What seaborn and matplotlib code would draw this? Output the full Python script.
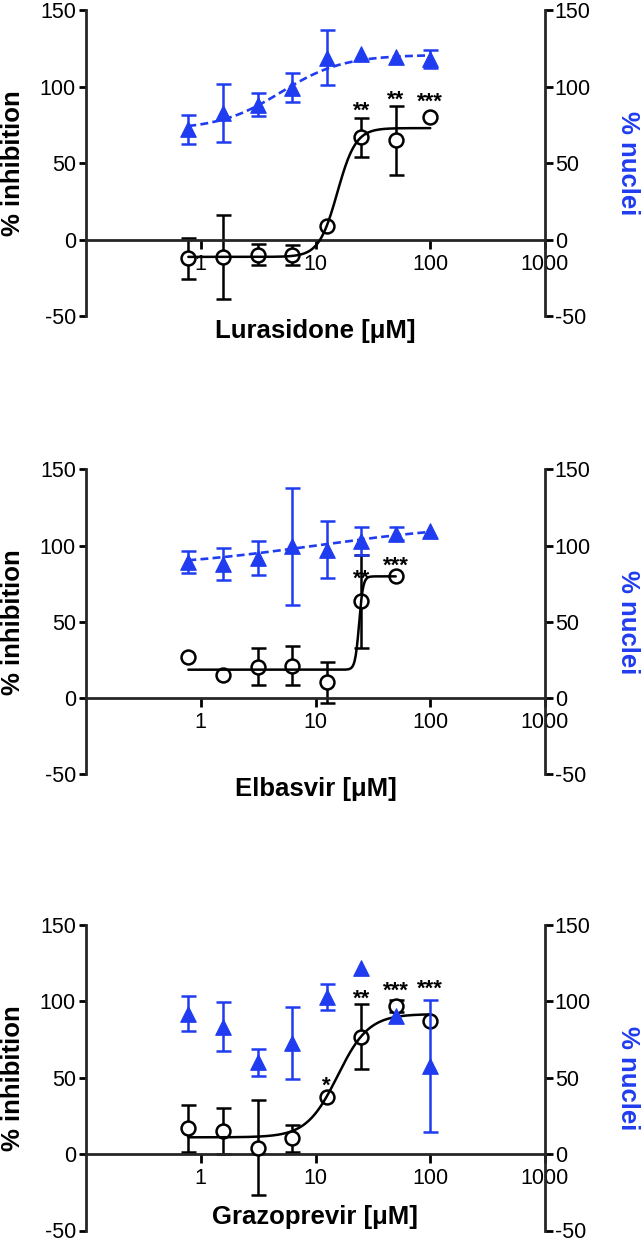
import numpy as np
import matplotlib
matplotlib.use('Agg')
import matplotlib.pyplot as plt
import matplotlib.transforms as mtransforms
import seaborn as sns

nan = np.nan

# ---------------- data ----------------
conc = [0.78, 1.56, 3.125, 6.25, 12.5, 25, 50, 100]
x_ticks = [1, 10, 100, 1000]
x_tick_labels = ['1', '10', '100', '1000']
y_ticks = [-50, 0, 50, 100, 150]
drug_labels = ['Lurasidone [\u03bcM]', 'Elbasvir [\u03bcM]', 'Grazoprevir [\u03bcM]']

lur_inh = [-12.2, -11.1, -9.8, -10.0, 8.8, 67, 65, 80]
lur_inh_err = [13.3, 27.5, 6.8, 6.8, nan, 12.7, 22.5, nan]
lur_nuc = [72.4, 83, 88.4, 99.3, 119, 121.3, 119.7, 118.4]
lur_nuc_err = [9.5, 19, 7.5, 9.5, 18, nan, nan, 6]

elb_inh = [26.8, 15.1, 20.6, 21.3, 10.3, 63.4, 80, nan]
elb_inh_err = [nan, nan, 12, 12.6, 13.6, 30.7, nan, nan]
elb_nuc = [89.3, 87.7, 91.9, 99.6, 97.4, 103, 107.9, 109.4]
elb_nuc_err = [7, 10.5, 11, 38.4, 19, 9, 4, nan]

gra_inh = [16.8, 15.1, 4.2, 10.3, 37.6, 77, 97, 86.9]
gra_inh_err = [15.5, 15.3, 31, 9, nan, 21, 4.2, nan]
gra_nuc = [91.8, 83.5, 60, 72.5, 102.8, 122, 90.7, 57.7]
gra_nuc_err = [11.5, 16, 8.8, 23.5, 8.5, nan, nan, 43]

# fitted 4-parameter logistic curves: bottom, top, EC50, Hill slope, last conc
lur_inh_fit = [-11.3, 73, 15.5, 5.4, 100]
lur_nuc_fit = [72, 121, 5.0, 1.6, 100]
elb_inh_fit = [18.6, 79.8, 24, 25, 50]
elb_nuc_fit = [85, 115, 10, 0.6, 100]
gra_inh_fit = [11, 91.7, 15.6, 3.2, 100]
gra_nuc_fit = None

# significance stars (concentration, visual centre, text)
lur_star_x = [25, 50, 100]
lur_star_y = [89.5, 96.5, 95]
lur_star_t = ['**', '**', '***']
elb_star_x = [25, 50]
elb_star_y = [83.3, 91.5]
elb_star_t = ['**', '***']
gra_star_x = [12.5, 25, 50, 100]
gra_star_y = [49.5, 106.6, 112, 112.8]
gra_star_t = ['*', '**', '***', '***']

panels = [
    (lur_inh, lur_inh_err, lur_nuc, lur_nuc_err, lur_inh_fit, lur_nuc_fit,
     lur_star_x, lur_star_y, lur_star_t),
    (elb_inh, elb_inh_err, elb_nuc, elb_nuc_err, elb_inh_fit, elb_nuc_fit,
     elb_star_x, elb_star_y, elb_star_t),
    (gra_inh, gra_inh_err, gra_nuc, gra_nuc_err, gra_inh_fit, gra_nuc_fit,
     gra_star_x, gra_star_y, gra_star_t),
]

# ---------------- style ----------------
sns.set_style('ticks')
plt.rcParams['font.family'] = ['Liberation Sans', 'DejaVu Sans']
plt.rcParams['lines.scale_dashes'] = True

BLUE = '#1f3cf0'
W, H = 644, 1243
L, R = 86, 545
panel_px = [(10.5, 316), (469.3, 774.3), (925, 1230.5)]
label_y_px = [331, 789, 1217]
LW = 2.0
TICK_FS = 15.5
LABEL_FS = 18.5
STAR_FS = 16


def four_pl(x, p):
    bottom, top, ec50, hill, _ = p
    return bottom + (top - bottom) / (1 + (ec50 / x) ** hill)


fig = plt.figure(figsize=(W / 100, H / 100), dpi=100)

for i, (inh, inh_err, nuc, nuc_err, fit_i, fit_n, sx, sy, st) in enumerate(panels):
    top_px, bot_px = panel_px[i]
    ax = fig.add_axes([L / W, 1 - bot_px / H, (R - L) / W, (bot_px - top_px) / H])
    ax.set_xscale('log')
    ax.set_xlim(0.1, 1000)
    ax.set_ylim(-50, 150)
    ax.patch.set_visible(False)

    # black: % inhibition
    ax.errorbar(conc, inh, yerr=inh_err, fmt='none', ecolor='black',
                elinewidth=1.8, capsize=5.4, capthick=1.8, zorder=2)
    sns.scatterplot(x=conc, y=inh, ax=ax, marker='o', s=100, color='white',
                    edgecolor='black', linewidth=1.8, zorder=3)
    xs = np.logspace(np.log10(conc[0]), np.log10(fit_i[4]), 400)
    sns.lineplot(x=xs, y=four_pl(xs, fit_i), ax=ax, color='black',
                 linewidth=1.8, estimator=None, sort=False, zorder=4)

    # stars
    star_tr = mtransforms.offset_copy(ax.transData, fig=fig, y=-0.6 * STAR_FS, units='points')
    for x, y, t in zip(sx, sy, st):
        ax.text(x, y, t, transform=star_tr, ha='center', va='baseline',
                fontsize=STAR_FS, fontweight='bold', color='black', zorder=5)

    # axes styling (left)
    for s in ['top', 'right']:
        ax.spines[s].set_visible(False)
    ax.spines['bottom'].set_position(('data', 0))
    ax.spines['left'].set_linewidth(LW)
    ax.spines['bottom'].set_linewidth(LW)
    ax.set_xticks(x_ticks)
    ax.set_xticklabels(x_tick_labels)
    ax.xaxis.set_minor_locator(matplotlib.ticker.NullLocator())
    ax.set_yticks(y_ticks)
    ax.set_yticklabels([str(v) for v in y_ticks])
    ax.tick_params(axis='x', which='major', direction='out', length=6.3, width=LW,
                   pad=4, labelsize=TICK_FS, colors='black')
    ax.tick_params(axis='y', which='major', direction='out', length=5.3, width=LW,
                   pad=2, labelsize=TICK_FS, colors='black')
    ax.set_xlabel('')
    ax.set_ylabel('')

    # blue: % nuclei (right axis)
    ax2 = ax.twinx()
    ax2.set_ylim(-50, 150)
    ax2.errorbar(conc, nuc, yerr=nuc_err, fmt='none', ecolor=BLUE,
                 elinewidth=1.8, capsize=5.4, capthick=1.8, zorder=2)
    sns.scatterplot(x=conc, y=nuc, ax=ax2, marker='^', s=125, color=BLUE,
                    edgecolor=BLUE, linewidth=0.8, zorder=3)
    if fit_n is not None:
        xs2 = np.logspace(np.log10(conc[0]), np.log10(fit_n[4]), 400)
        sns.lineplot(x=xs2, y=four_pl(xs2, fit_n), ax=ax2, color=BLUE,
                     linewidth=1.9, linestyle=(0, (3.0, 1.6)),
                     estimator=None, sort=False, zorder=4)
    for s in ['top', 'left', 'bottom']:
        ax2.spines[s].set_visible(False)
    ax2.spines['right'].set_linewidth(LW)
    ax2.set_yticks(y_ticks)
    ax2.set_yticklabels([str(v) for v in y_ticks])
    ax2.tick_params(axis='y', which='major', direction='out', length=5.5, width=LW,
                    pad=1.5, labelsize=TICK_FS, colors='black')
    ax2.set_ylabel('')
    ax2.set_xlabel('')

    # labels
    cy = 1 - (top_px + bot_px) / 2 / H
    fig.text(13 / W, cy, '% inhibition', rotation=90, ha='center', va='center',
             fontsize=LABEL_FS, fontweight='bold', color='black')
    fig.text(628 / W, cy, '% nuclei', rotation=270, ha='center', va='center',
             fontsize=LABEL_FS, fontweight='bold', color=BLUE)
    fig.text((L + R) / 2 / W, 1 - label_y_px[i] / H, drug_labels[i], ha='center',
             va='center', fontsize=LABEL_FS, fontweight='bold', color='black')

fig.savefig('out.png', dpi=100, facecolor='white')
